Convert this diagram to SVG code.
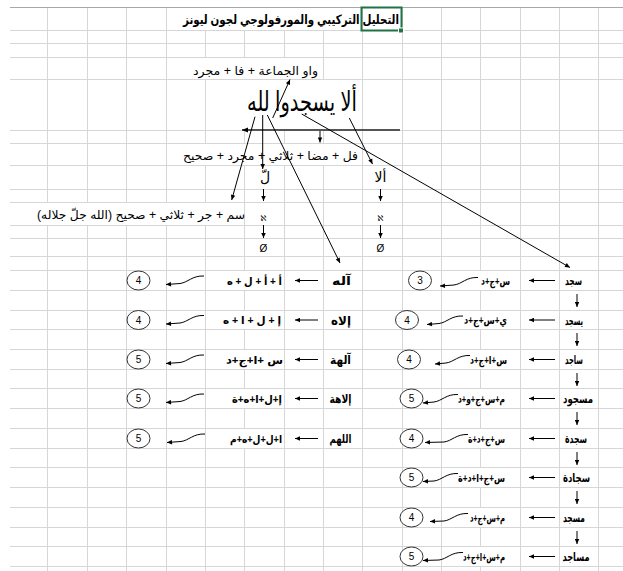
<svg xmlns="http://www.w3.org/2000/svg" width="623" height="571" viewBox="0 0 623 571">
<style>
.grid{stroke:#d6d6d6;stroke-width:1;fill:none}
.blank{fill:#fff;stroke:none}
text{font-family:"Liberation Sans","DejaVu Sans",sans-serif;fill:#000}
.ar{direction:rtl}
.t12{font-size:12px}
.b{font-weight:bold}
.f{font-size:11px;font-weight:bold}
.w{font-size:12px;font-weight:bold}
.num{font-size:10px;text-anchor:middle}
.circ{fill:#fff;stroke:#333;stroke-width:1}
.ln{stroke:#000;stroke-width:1;fill:none;marker-end:url(#ah)}
.cv{stroke:#000;stroke-width:1;fill:none;marker-end:url(#ah)}
</style>
<defs>
<marker id="ah" viewBox="0 0 10 10" refX="10" refY="5" markerWidth="6" markerHeight="5" orient="auto" markerUnits="userSpaceOnUse"><path d="M0,0.5 L10,5 L0,9.5 z" fill="#000"/></marker>
<marker id="ahg" viewBox="0 0 10 10" refX="10" refY="5" markerWidth="6" markerHeight="6" orient="auto" markerUnits="userSpaceOnUse"><path d="M0,1 L10,5 L0,9 z" fill="#000"/></marker>
</defs>
<rect width="623" height="571" fill="#fff"/>
<g id="grid">
<path class="grid" d="M47.5,7.5V571M87.5,7.5V571M126.5,7.5V571M166.5,7.5V571M205.5,7.5V571M244.5,7.5V571M284.5,7.5V571M323.5,7.5V571M362.5,7.5V571M402.5,7.5V571M441.5,7.5V571M480.5,7.5V571M520.5,7.5V571M559.5,7.5V571M598.5,7.5V571"/>
<path class="grid" d="M10,30.5H623M10,43.5H623M10,57.5H623M10,79.5H623M10,130.5H623M10,143.5H623M10,165.5H623M10,189.5H623M10,202.5H623M10,225.5H623M10,238.5H623M10,256.5H623M10,270.5H623M10,290.5H623M10,310.5H623M10,329.5H623M10,349.5H623M10,369.5H623M10,388.5H623M10,408.5H623M10,428.5H623M10,448.5H623M10,467.5H623M10,487.5H623M10,507.5H623M10,527.5H623M10,546.5H623M10,566.5H623"/>
<path d="M10,7.5H623" stroke="#a8a8a8" stroke-width="1"/>
<rect class="blank" x="180" y="8" width="182" height="22"/>
<rect class="blank" x="190" y="58" width="130" height="21"/>
<rect class="blank" x="240" y="80" width="120" height="50"/>
<rect class="blank" x="180" y="144" width="180" height="21"/>
<rect class="blank" x="34" y="203" width="209" height="22"/>
<rect class="blank" x="220" y="271" width="62" height="19"/>
<rect class="blank" x="220" y="311" width="62" height="18"/>
<rect class="blank" x="220" y="350" width="62" height="19"/>
<rect class="blank" x="220" y="389" width="62" height="19"/>
<rect class="blank" x="220" y="429" width="62" height="19"/>
<rect class="blank" x="456" y="271" width="52" height="19"/>
<rect class="blank" x="456" y="311" width="52" height="18"/>
<rect class="blank" x="456" y="350" width="52" height="19"/>
<rect class="blank" x="456" y="389" width="52" height="19"/>
<rect class="blank" x="456" y="429" width="52" height="19"/>
<rect class="blank" x="456" y="468" width="52" height="19"/>
<rect class="blank" x="456" y="508" width="52" height="19"/>
<rect class="blank" x="456" y="547" width="52" height="19"/>
<rect x="361.5" y="7.5" width="40" height="23" fill="none" stroke="#217346" stroke-width="2"/>
<rect x="398.5" y="28" width="5" height="5" fill="#217346" stroke="#fff" stroke-width="1"/>
</g>
<g id="title"><text class="ar b" x="399" y="24" font-size="13" text-anchor="start" textLength="216" lengthAdjust="spacingAndGlyphs">التحليل التركيبي والمورفولوجي لجون ليونز</text></g>
<g id="n-waw"><text class="ar t12" x="318" y="75" text-anchor="start" textLength="125" lengthAdjust="spacingAndGlyphs">واو الجماعة + فا + مجرد</text></g>
<g id="n-phrase"><text class="ar" x="357" y="111" font-size="27" text-anchor="start" textLength="110" lengthAdjust="spacingAndGlyphs">ألا يسجدوا لله</text></g>
<g id="n-fil"><text class="ar t12" x="358" y="160" text-anchor="start" textLength="175" lengthAdjust="spacingAndGlyphs">فل + مضا + ثلاثي + مجرد + صحيح</text></g>
<g id="n-ism"><text class="ar t12" x="245" y="219" text-anchor="start" textLength="208" lengthAdjust="spacingAndGlyphs">سم + جر + ثلاثي + صحيح (الله جلّ جلاله)</text></g>
<g id="n-lam"><text class="ar" x="265" y="182" font-size="14" text-anchor="middle">لّ</text>
<text x="263.5" y="221" font-size="8" text-anchor="middle">ℵ</text>
<text x="263.5" y="252" font-size="10" text-anchor="middle">Ø</text></g>
<g id="n-ala"><text class="ar" x="380.5" y="182" font-size="14" text-anchor="middle">ألا</text>
<text x="380.5" y="221" font-size="8" text-anchor="middle">ℵ</text>
<text x="380.5" y="252" font-size="10" text-anchor="middle">Ø</text></g>
<g id="left-table">
<g id="l1"><ellipse class="circ" cx="138.5" cy="280.5" rx="11.5" ry="9.5"/><text class="num" x="138.5" y="284">4</text><text class="ar f" x="282" y="284.5" text-anchor="start" textLength="55" lengthAdjust="spacingAndGlyphs">أ + أ + ل + ه</text><text class="ar w" x="351" y="285" text-anchor="start" textLength="19" lengthAdjust="spacingAndGlyphs">آله</text></g>
<g id="l2"><ellipse class="circ" cx="138.5" cy="320" rx="11.5" ry="9.5"/><text class="num" x="138.5" y="323.5">4</text><text class="ar f" x="281" y="324" text-anchor="start" textLength="58" lengthAdjust="spacingAndGlyphs">إ + ل + ا + ه</text><text class="ar w" x="351" y="324.5" text-anchor="start" textLength="20" lengthAdjust="spacingAndGlyphs">إلاه</text></g>
<g id="l3"><ellipse class="circ" cx="138.5" cy="359.5" rx="11.5" ry="9.5"/><text class="num" x="138.5" y="363">5</text><text class="ar f" x="283" y="363.5" text-anchor="start" textLength="57" lengthAdjust="spacingAndGlyphs">س +ا+ج+د</text><text class="ar w" x="351" y="364" text-anchor="start" textLength="21" lengthAdjust="spacingAndGlyphs">آلهة</text></g>
<g id="l4"><ellipse class="circ" cx="138.5" cy="398.5" rx="11.5" ry="9.5"/><text class="num" x="138.5" y="402">5</text><text class="ar f" x="282" y="402.5" text-anchor="start" textLength="50" lengthAdjust="spacingAndGlyphs">إ+ل+ا+ه+ة</text><text class="ar w" x="351.5" y="403" text-anchor="start" textLength="22" lengthAdjust="spacingAndGlyphs">إلاهة</text></g>
<g id="l5"><ellipse class="circ" cx="138.5" cy="438.5" rx="11.5" ry="9.5"/><text class="num" x="138.5" y="442">5</text><text class="ar f" x="282" y="442.5" text-anchor="start" textLength="52" lengthAdjust="spacingAndGlyphs">ا+ل+ل+ه+م</text><text class="ar w" x="351.5" y="443" text-anchor="start" textLength="22" lengthAdjust="spacingAndGlyphs">اللهم</text></g>
</g>
<g id="right-table">
<g id="r1"><ellipse class="circ" cx="420" cy="280.5" rx="11.5" ry="9.5"/><text class="num" x="420" y="284">3</text><text class="ar f" x="510" y="284.5" text-anchor="start" textLength="29" lengthAdjust="spacingAndGlyphs">س+ج+د</text><text class="ar w" x="582" y="285" text-anchor="start" textLength="17" lengthAdjust="spacingAndGlyphs">سجد</text></g>
<g id="r2"><ellipse class="circ" cx="407" cy="320" rx="11.5" ry="9.5"/><text class="num" x="407" y="323.5">4</text><text class="ar f" x="507" y="324" text-anchor="start" textLength="43" lengthAdjust="spacingAndGlyphs">ي+س+ج+د</text><text class="ar w" x="583" y="324.5" text-anchor="start" textLength="18" lengthAdjust="spacingAndGlyphs">يسجد</text></g>
<g id="r3"><ellipse class="circ" cx="409" cy="359.5" rx="11.5" ry="9.5"/><text class="num" x="409" y="363">4</text><text class="ar f" x="507" y="363.5" text-anchor="start" textLength="37" lengthAdjust="spacingAndGlyphs">س+ا+ج+د</text><text class="ar w" x="583" y="364" text-anchor="start" textLength="18" lengthAdjust="spacingAndGlyphs">ساجد</text></g>
<g id="r4"><ellipse class="circ" cx="411.5" cy="398.5" rx="11.5" ry="9.5"/><text class="num" x="411.5" y="402">5</text><text class="ar f" x="505" y="402.5" text-anchor="start" textLength="47" lengthAdjust="spacingAndGlyphs">م+س+ج+و+د</text><text class="ar w" x="593" y="403" text-anchor="start" textLength="30" lengthAdjust="spacingAndGlyphs">مسجود</text></g>
<g id="r5"><ellipse class="circ" cx="411.5" cy="438.5" rx="11.5" ry="9.5"/><text class="num" x="411.5" y="442">4</text><text class="ar f" x="505" y="442.5" text-anchor="start" textLength="37" lengthAdjust="spacingAndGlyphs">س+ج+د+ة</text><text class="ar w" x="587" y="443" text-anchor="start" textLength="22" lengthAdjust="spacingAndGlyphs">سجدة</text></g>
<g id="r6"><ellipse class="circ" cx="411.5" cy="477.5" rx="11.5" ry="9.5"/><text class="num" x="411.5" y="481">5</text><text class="ar f" x="505" y="481.5" text-anchor="start" textLength="47" lengthAdjust="spacingAndGlyphs">س+ج+ا+د+ة</text><text class="ar w" x="590" y="482" text-anchor="start" textLength="27" lengthAdjust="spacingAndGlyphs">سجادة</text></g>
<g id="r7"><ellipse class="circ" cx="411.5" cy="517.5" rx="11.5" ry="9.5"/><text class="num" x="411.5" y="521">4</text><text class="ar f" x="505" y="521.5" text-anchor="start" textLength="35" lengthAdjust="spacingAndGlyphs">م+س+ج+د</text><text class="ar w" x="585" y="522" text-anchor="start" textLength="22" lengthAdjust="spacingAndGlyphs">مسجد</text></g>
<g id="r8"><ellipse class="circ" cx="411.5" cy="556.5" rx="11.5" ry="9.5"/><text class="num" x="411.5" y="560">5</text><text class="ar f" x="505" y="560.5" text-anchor="start" textLength="42" lengthAdjust="spacingAndGlyphs">م+س+ا+ج+د</text><text class="ar w" x="589.5" y="561" text-anchor="start" textLength="27" lengthAdjust="spacingAndGlyphs">مساجد</text></g>
</g>
<g id="connectors">
<path d="M400,130 H242" stroke="#555" stroke-width="2" fill="none" marker-end="url(#ahg)"/>
<path class="ln" d="M272.7,118 L290,79.5"/>
<path class="ln" d="M320,131 V142.5"/>
<path class="ln" d="M301.7,114 L570,267.5"/>
<path class="ln" d="M349.3,118 L372.5,164"/>
<path class="ln" d="M255,116.7 L231.7,200"/>
<path class="ln" d="M262.7,115 V169"/>
<path class="ln" d="M267.3,115 L340,263"/>
<path class="ln" d="M263.5,189 V201"/>
<path class="ln" d="M263.5,225 V238"/>
<path class="ln" d="M380.5,189 V201"/>
<path class="ln" d="M380.5,225 V238"/>
<path class="ln" d="M318,280.5 H295"/>
<path class="ln" d="M318,320 H295"/>
<path class="ln" d="M318,359.5 H295"/>
<path class="ln" d="M318,398.5 H295"/>
<path class="ln" d="M318,438.5 H295"/>
<path class="cv" d="M204,276 C192,275.5 188,282.5 180,283.5 L166,284.5"/>
<path class="cv" d="M204,315.5 C192,315 188,322 180,323 L166,324"/>
<path class="cv" d="M204,355 C192,354.5 188,361.5 180,362.5 L166,363.5"/>
<path class="cv" d="M204,394 C192,393.5 188,400.5 180,401.5 L166,402.5"/>
<path class="cv" d="M205,434 C193,433.5 189,440.5 181,441.5 L167,442.5"/>
<path class="ln" d="M555,280.5 H529"/>
<path class="ln" d="M555,320 H529"/>
<path class="ln" d="M555,359.5 H529"/>
<path class="ln" d="M555,398.5 H529"/>
<path class="ln" d="M555,438.5 H529"/>
<path class="ln" d="M555,477.5 H529"/>
<path class="ln" d="M555,517.5 H529"/>
<path class="ln" d="M555,556.5 H529"/>
<path class="ln" d="M577,294 V307"/>
<path class="ln" d="M577,333 V346"/>
<path class="ln" d="M577,373 V386"/>
<path class="ln" d="M577,412 V425"/>
<path class="ln" d="M577,452 V465"/>
<path class="ln" d="M577,491 V504"/>
<path class="ln" d="M577,531 V544"/>
<path class="cv" d="M478,277.5 C466,277 462,284 454,285 L440,286"/>
<path class="cv" d="M463,316 C451,315.5 447,322.5 439,323.5 L427,324.5"/>
<path class="cv" d="M470,355.5 C458,355 454,362 446,363 L435,364"/>
<path class="cv" d="M458,394.5 C446,394 442,401 434,402 L423,403"/>
<path class="cv" d="M468,434.5 C456,434 452,441 444,442 L425,442.5"/>
<path class="cv" d="M458,473.5 C446,473 442,480 434,481 L423,481.5"/>
<path class="cv" d="M468,513.5 C456,513 452,520 444,521 L430,521.5"/>
<path class="cv" d="M463,552.5 C451,552 447,559 439,560 L423,560.5"/>
</g>
</svg>
